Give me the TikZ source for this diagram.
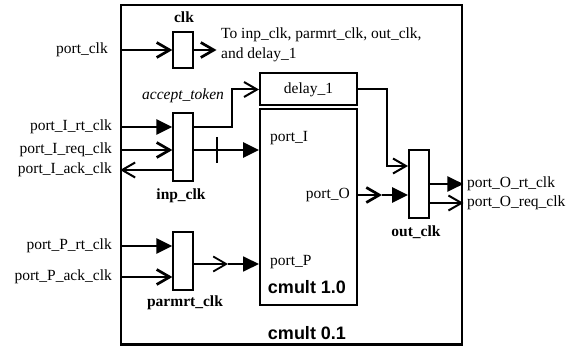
\documentclass[tikz,border=0pt]{standalone}
\usepackage{fontspec}
\setmainfont{Liberation Serif}
\setsansfont{Liberation Sans}
\usetikzlibrary{arrows.meta}
\begin{document}
\begin{tikzpicture}[x=1pt,y=-1pt,
  lbl/.style={font=\fontsize{15.5}{20}\selectfont, inner sep=0pt},
  blbl/.style={font=\fontsize{15.5}{20}\selectfont\bfseries, inner sep=0pt},
  slbl/.style={font=\fontsize{18}{22}\selectfont\sffamily\bfseries, inner sep=0pt},
  blk/.style={draw, line width=2pt, inner sep=0pt, fill=white},
  th/.style={line width=2.7pt},
  md/.style={line width=2pt},
  tn/.style={line width=1.8pt},
  openhead/.style={-{Straight Barb[length=13pt,width=15pt]}},
  fillhead/.style={-{Triangle[length=16pt,width=15pt]}}
]
\useasboundingbox (0,0) rectangle (580,347);
\node[draw, line width=2.3pt, minimum width=341pt, minimum height=339.5pt, inner sep=0pt] (outer) at (291.8,174.8) {};

% blocks
\node[blk, minimum width=19.7pt, minimum height=36pt] (clk) at (183.2,50) {};
\node[blk, minimum width=19.7pt, minimum height=68pt] (inp) at (183.2,147.5) {};
\node[blk, minimum width=19.7pt, minimum height=58pt] (parm) at (183.2,261) {};
\node[blk, minimum width=97pt, minimum height=32pt, lbl] (delay) at (308.5,89.5) {delay\_1};
\node[blk, minimum width=97pt, minimum height=196pt] (cmult) at (308.5,207) {};
\node[blk, minimum width=20pt, minimum height=68pt] (outclk) at (419,184) {};

% block labels
\node[blbl] (clkl) at (184,17) {clk};
\node[blbl] (inpl) at (181,196) {inp\_clk};
\node[blbl] (parml) at (185,303) {parmrt\_clk};
\node[blbl] (outl) at (416,232) {out\_clk};
\node[lbl, anchor=west, align=left] (tol) at (221,45) {To inp\_clk, parmrt\_clk, out\_clk,\\and delay\_1};
\node[lbl, font=\fontsize{15.5}{20}\selectfont\itshape] (acc) at (183,96) {accept\_token};
\node[lbl, anchor=west] (pI) at (270,138) {port\_I};
\node[lbl, anchor=east] (lO) at (350,195) {port\_O};
\node[lbl, anchor=west] (pP) at (270,262) {port\_P};
\node[slbl] (c10) at (307,287) {cmult 1.0};
\node[slbl] (c01) at (307,333) {cmult 0.1};

% port labels
\node[lbl, anchor=east] (lclk) at (108,50) {port\_clk};
\node[lbl, anchor=east] (lIrt) at (112,127) {port\_I\_rt\_clk};
\node[lbl, anchor=east] (lIreq) at (112,150) {port\_I\_req\_clk};
\node[lbl, anchor=east] (lIack) at (112,170) {port\_I\_ack\_clk};
\node[lbl, anchor=east] (lPrt) at (112,246) {port\_P\_rt\_clk};
\node[lbl, anchor=east] (lPack) at (112,277) {port\_P\_ack\_clk};
\node[lbl, anchor=west] (lOrt) at (467,184) {port\_O\_rt\_clk};
\node[lbl, anchor=west] (lOreq) at (467,203) {port\_O\_req\_clk};

\coordinate (clkto) at (216.5,50);
\coordinate (pmid) at (228,264);
\coordinate (omid) at (382,195);

% connectors
\draw[th,openhead] (outer.west|-lclk) -- (clk.west|-lclk);
\draw[th,openhead] (clk.east|-lclk) -- (clkto);
\draw[th,fillhead] (outer.west|-lIrt) -- (inp.west|-lIrt);
\draw[th,openhead] (outer.west|-lIreq) -- (inp.west|-lIreq);
\draw[md,openhead] (inp.west|-lIack) -- (outer.west|-lIack);
\draw[md,openhead] (inp.east|-lIrt) -- ++(38,0) |- (delay.west);
\draw[th,fillhead] (inp.east|-lIreq) -- coordinate[pos=0.354] (tk) (cmult.west|-lIreq);
\draw[th] ([yshift=13pt]tk) -- ([yshift=-13pt]tk);
\draw[th,fillhead] (outer.west|-lPrt) -- (parm.west|-lPrt);
\draw[th,openhead] (outer.west|-lPack) -- (parm.west|-lPack);
\draw[tn,openhead] (parm.east|-pmid) -- (pmid);
\draw[tn,fillhead] (pmid) -- (cmult.west|-pmid);
\draw[md,openhead] (delay.east) -- ++(29,0) |- ([yshift=18pt]outclk.west);
\draw[th,openhead] (cmult.east|-lO) -- (omid);
\draw[th,fillhead] (omid) -- (outclk.west|-lO);
\draw[md,fillhead] (outclk.east|-lOrt) -- (outer.east|-lOrt);
\draw[md,openhead] (outclk.east|-lOreq) -- (outer.east|-lOreq);
\end{tikzpicture}
\end{document}
